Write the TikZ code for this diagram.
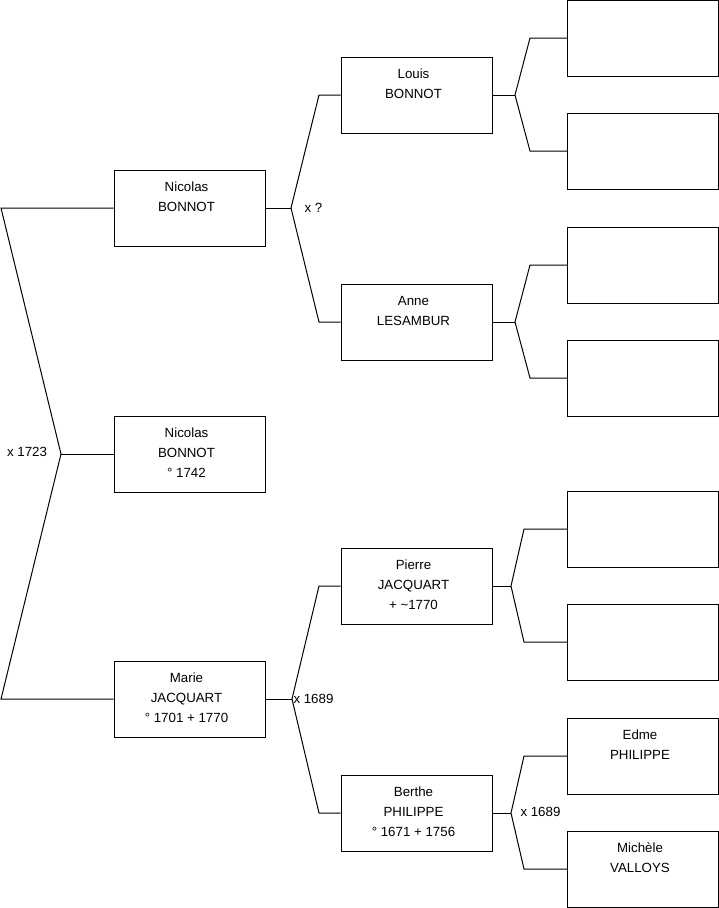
\documentclass[tikz,border=0pt]{standalone}
\usepackage{fontspec}
\setmainfont{Liberation Sans}
\begin{document}
\begin{tikzpicture}[x=1pt, y=-1pt, line width=1pt,
  pbox/.style={draw, rectangle, minimum width=151pt, minimum height=76pt, inner sep=0pt},
  ptext/.style={anchor=north, xshift=-3pt, yshift=-12pt, align=center, inner sep=0pt, font=\fontsize{13.3}{20}\selectfont},
  mlabel/.style={inner sep=0pt, font=\fontsize{13.3}{20}\selectfont}]
\useasboundingbox (0,0) rectangle (719,908);
% generation 1
\node[pbox] (nic) at (189.5,208) {};
\node[ptext] at (nic.north) {Nicolas\\BONNOT};
\node[pbox] (child) at (189.5,454) {};
\node[ptext] at (child.north) {Nicolas\\BONNOT\\° 1742};
\node[pbox] (mar) at (189.5,699) {};
\node[ptext] at (mar.north) {Marie\\JACQUART\\° 1701 + 1770};
% generation 2
\node[pbox] (lou) at (416.5,95) {};
\node[ptext] at (lou.north) {Louis\\BONNOT};
\node[pbox] (ann) at (416.5,322) {};
\node[ptext] at (ann.north) {Anne\\LESAMBUR};
\node[pbox] (pie) at (416.5,586) {};
\node[ptext] at (pie.north) {Pierre\\JACQUART\\+ \textasciitilde1770};
\node[pbox] (ber) at (416.5,813) {};
\node[ptext] at (ber.north) {Berthe\\PHILIPPE\\° 1671 + 1756};
% generation 3
\node[pbox] (r1) at (643,38) {};
\node[pbox] (r2) at (643,151) {};
\node[pbox] (r3) at (643,265) {};
\node[pbox] (r4) at (643,378) {};
\node[pbox] (r5) at (643,529) {};
\node[pbox] (r6) at (643,642) {};
\node[pbox] (edm) at (643,756) {};
\node[ptext] at (edm.north) {Edme\\PHILIPPE};
\node[pbox] (mic) at (643,869) {};
\node[ptext] at (mic.north) {Michèle\\VALLOYS};
% marriages
\node[mlabel] at (27,452) {x 1723};
\node[mlabel, anchor=west] at (304,208) {x ?};
\node[mlabel, anchor=west] at (293,699) {x 1689};
\node[mlabel, anchor=west] at (520,812) {x 1689};
% forks
\coordinate (ja) at (61,454);
\coordinate (ja1) at (1,208);
\coordinate (ja2) at (1,699);
\draw (child.west) -- (ja);
\draw (nic.west) -- (ja1) -- (ja) -- (ja2) -- (mar.west);
\coordinate (jb) at (291,208);
\draw (nic.east) -- (jb);
\draw (lou.west) -- (319,95) -- (jb) -- (319,322) -- (ann.west);
\coordinate (jc) at (292,699);
\draw (mar.east) -- (jc);
\draw (pie.west) -- (319,586) -- (jc) -- (319,813) -- (ber.west);
\coordinate (jd) at (515,95);
\draw (lou.east) -- (jd);
\draw (r1.west) -- (530,38) -- (jd) -- (530,151) -- (r2.west);
\coordinate (je) at (515,322);
\draw (ann.east) -- (je);
\draw (r3.west) -- (530,265) -- (je) -- (530,378) -- (r4.west);
\coordinate (jf) at (511,586);
\draw (pie.east) -- (jf);
\draw (r5.west) -- (524,529) -- (jf) -- (524,642) -- (r6.west);
\coordinate (jg) at (511,813);
\draw (ber.east) -- (jg);
\draw (edm.west) -- (524,756) -- (jg) -- (524,869) -- (mic.west);
\end{tikzpicture}
\end{document}
